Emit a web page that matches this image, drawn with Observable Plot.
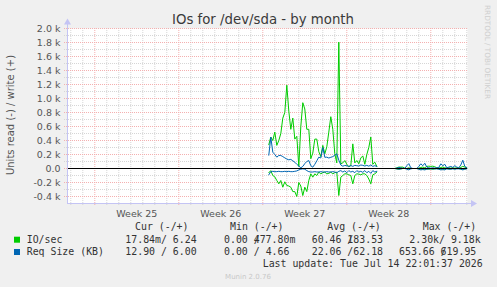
<!DOCTYPE html>
<html><head><meta charset="utf-8">
<script src="https://cdn.jsdelivr.net/npm/d3@7"></script>
<script src="https://cdn.jsdelivr.net/npm/@observablehq/plot@0.6"></script>
<style>
html,body{margin:0;padding:0;background:#f0f0f0;}
#wrap{position:relative;width:497px;height:287px;overflow:hidden;background:#f0f0f0;}
#wrap svg{position:absolute;left:0;top:0;}
</style></head><body><div id="wrap"></div>
<script>
// ---------- data ----------
const title = "IOs for /dev/sda - by month";
const yLabel = "Units read (-) / write (+)";
const sideLabel = "RRDTOOL / TOBI OETIKER";
const footer = "Munin 2.0.76";
const lastUpdate = "Last update: Tue Jul 14 22:01:37 2026";

const weekLabels = ["Week 25", "Week 26", "Week 27", "Week 28"];
const weekStarts = ["2026-06-14", "2026-06-21", "2026-06-28", "2026-07-05", "2026-07-12"];
const yMajorTicks = [-400, -200, 0, 200, 400, 600, 800, 1000, 1200, 1400, 1600, 1800, 2000];
const yMinorTicks = [-300, -100, 100, 300, 500, 700, 900, 1100, 1300, 1500, 1700, 1900];

const stepHours = 4;
const denseStart = "2026-06-28T12:00:00Z";
const sparseStart = "2026-07-08T20:00:00Z";

const ioWriteDense = [340,450,400,520,330,400,500,720,800,1190,820,560,720,420,460,30,600,940,850,560,560,140,220,420,420,240,170,330,210,310,520,740,560,210,80,1805,67,80,114,60,25,40,352,80,114,67,150,180,60,200,300,450,60,90,30];
const ioReadDense = [-60,-30,-100,-120,-171,-219,-171,-267,-190,-243,-250,-267,-330,-330,-400,-200,-250,-386,-267,-330,-171,-76,-124,-76,-100,-52,-76,-60,-52,-76,-70,-52,-76,-60,-52,-386,-124,-100,-76,-76,-90,-100,-219,-100,-76,-80,-90,-76,-76,-100,-150,-219,-90,-76,-52];
const reqWriteDense = [190,448,233,200,162,186,186,170,152,135,124,130,110,90,60,35,10,30,70,100,114,40,19,60,110,162,150,300,160,162,150,160,170,190,210,120,50,33,43,40,30,43,30,45,40,35,50,45,35,45,33,50,30,40,30];
const reqReadDense = [-90,-45,-40,-45,-45,-40,-45,-45,-40,-45,-40,-45,-45,-40,-35,-20,-10,-5,-10,-30,-45,-50,-50,-45,-50,-50,-45,-50,-50,-45,-50,-50,-45,-50,-60,-40,-30,-50,-35,-60,-30,-50,-40,-60,-30,-50,-40,-55,-30,-60,-40,-70,-30,-50,-40];

const ioWriteSparse = [0,0,10,20,20,20,5,0,10,0,0,0,0,5,15,20,10,30,33,30,33,25,10,5,15,20,10,5,10,5,10,5,10,5,15,30,20,10];
const ioReadSparse = [0,0,-5,-10,-5,0,0,0,-5,0,0,0,0,-5,-10,-5,-10,-5,-10,-5,-10,-5,0,-5,-10,-5,-10,0,-5,-5,0,-5,0,0,-5,-10,-5,0];
const reqWriteSparse = [0,0,5,15,10,5,0,40,70,10,0,0,0,30,67,40,75,20,10,5,10,5,10,15,67,40,60,10,20,30,15,40,20,10,50,119,30,10];
const reqReadSparse = [0,0,-5,-10,-5,0,0,-10,-20,-5,0,0,0,-10,-20,-15,-20,-10,-5,-5,-5,-5,-5,-10,-20,-15,-20,-5,-10,-10,-5,-10,-5,-5,-10,-20,-10,-5];

const legendHeaders = ["Cur (-/+)", "Min (-/+)", "Avg (-/+)", "Max (-/+)"];
const legendNames = ["IO/sec", "Req Size (KB)"];
const legendColors = ["#00cc00", "#0066b3"];
// [read part, write part, slash overlaps the next character?]
const legendValues = [
  [["17.84m", " 6.24", false], ["0.00 ", "477.80m", true], ["60.46 ", "183.53", true], ["2.30k", " 9.18k", false]],
  [["12.90 ", " 6.00", false], ["0.00 ", " 4.66", false], ["22.06 ", "62.18", false], ["653.66 ", "619.95", true]]
];

// ---------- build ----------
const domainStart = new Date("2026-06-11T17:24:00Z");
const domainEnd = new Date("2026-07-15T01:24:00Z");
const sundays = weekStarts.map(d => new Date(d + "T00:00:00Z"));
const days = d3.utcDay.range(d3.utcDay.ceil(domainStart), domainEnd);
const minorDays = days.filter(d => d.getUTCDay() !== 0);
const weekMids = sundays.slice(0, 4).map(d => d3.utcHour.offset(d, 84));
const weekLabelByTime = new Map(weekMids.map((d, i) => [+d, weekLabels[i]]));

function series(startIso, values, key) {
  const t0 = new Date(startIso);
  return values.map((v, i) => ({t: d3.utcHour.offset(t0, i * stepHours), v, key}));
}
const ioRows = [
  ...series(denseStart, ioWriteDense, "w1"), ...series(denseStart, ioReadDense, "r1"),
  ...series(sparseStart, ioWriteSparse, "w2"), ...series(sparseStart, ioReadSparse, "r2")
];
const reqRows = [
  ...series(denseStart, reqWriteDense, "w1"), ...series(denseStart, reqReadDense, "r1"),
  ...series(sparseStart, reqWriteSparse, "w2"), ...series(sparseStart, reqReadSparse, "r2")
];

const axisColor = "#c4c4f4";
const minorColor = "#d6d6d6";
const majorColor = "#f4b0b0";
const yTop = 2000, yBottom = -500;
const arrowTopY = 2086;
const arrowRightX = d3.utcHour.offset(domainEnd, 11);

const chart = Plot.plot({
  width: 497, height: 287,
  marginLeft: 67, marginRight: 30, marginTop: 28, marginBottom: 84,
  x: {type: "utc", domain: [domainStart, domainEnd]},
  y: {domain: [yBottom, yTop]},
  style: {background: "transparent", fontFamily: "DejaVu Sans, sans-serif", fontSize: "9.5px", color: "#555", overflow: "visible"},
  marks: [
    Plot.frame({fill: "white", stroke: null}),
    Plot.ruleY(yMinorTicks, {stroke: minorColor, strokeDasharray: "1,1", insetLeft: -3}),
    Plot.ruleX(minorDays, {stroke: minorColor, strokeDasharray: "1,1", insetBottom: -3}),
    Plot.ruleY(yMajorTicks, {stroke: majorColor, strokeDasharray: "1,1", insetLeft: -3}),
    Plot.ruleX(sundays, {stroke: majorColor, strokeDasharray: "1,1", insetBottom: -3}),
    Plot.line(ioRows, {x: "t", y: "v", z: "key", stroke: "#00cc00", strokeWidth: 1}),
    Plot.line(reqRows, {x: "t", y: "v", z: "key", stroke: "#0066b3", strokeWidth: 1}),
    Plot.ruleY([0], {stroke: "#000", strokeWidth: 1}),
    Plot.ruleX([domainStart], {y1: yBottom, y2: arrowTopY, stroke: axisColor}),
    Plot.ruleY([yBottom], {x1: domainStart, x2: arrowRightX, stroke: axisColor}),
    Plot.dot([{x: domainStart, y: arrowTopY}], {x: "x", y: "y", symbol: "triangle", r: 2.6, fill: axisColor, stroke: null}),
    Plot.dot([{x: arrowRightX, y: yBottom}], {x: "x", y: "y", symbol: "triangle", r: 2.6, rotate: 90, fill: axisColor, stroke: null}),
    Plot.axisY(yMajorTicks, {tickFormat: d => d === 0 ? "0.0" : (d / 1000).toFixed(1) + " k", tickSize: 0, tickPadding: 7, label: null, fill: "#555"}),
    Plot.axisX(weekMids, {tickFormat: d => weekLabelByTime.get(+d), tickSize: 0, tickPadding: 6.5, label: null, fill: "#555"})
  ]
});
const wrap = document.getElementById("wrap");
wrap.appendChild(chart);

// ---------- texts (title, labels, legend) ----------
const ov = d3.select(wrap).append("svg").attr("width", 497).attr("height", 287)
  .style("font-family", "DejaVu Sans, sans-serif");
ov.append("text").attr("x", 263).attr("y", 24).attr("text-anchor", "middle")
  .attr("font-size", 13.3).attr("fill", "#3a3a3a").text(title);
ov.append("text").attr("transform", "translate(14,115) rotate(-90)").attr("text-anchor", "middle")
  .attr("font-size", 10).attr("fill", "#555").text(yLabel);
ov.append("text").attr("transform", "translate(484.6,5) rotate(90)").attr("text-anchor", "start")
  .attr("font-size", 7.3).attr("fill", "#cfcfcf").text(sideLabel);
ov.append("text").attr("x", 248).attr("y", 278.5).attr("text-anchor", "middle")
  .attr("font-size", 7).attr("fill", "#c8c8c8").text(footer);

const mono = ov.append("g").style("font-family", "DejaVu Sans Mono, monospace")
  .attr("font-size", 9.9).attr("fill", "#333").style("white-space", "pre");
const cw = 9.9 * 0.602;
const headerX = [135, 230, 327.3, 422.7];
legendHeaders.forEach((h, i) => mono.append("text").attr("x", headerX[i]).attr("y", 230.3).text(h));
const rowY = [243, 255.3];
const valueX = [[125.3, 224, 311.7, 409.3], [125.3, 224, 311.7, 399]];
legendNames.forEach((n, r) => {
  ov.append("rect").attr("x", 14).attr("y", rowY[r] - 6.3).attr("width", 6).attr("height", 6).attr("fill", legendColors[r]);
  mono.append("text").attr("x", 26.7).attr("y", rowY[r]).text(n);
  legendValues[r].forEach(([rd, wr, overlap], c) => {
    const t = mono.append("text").attr("x", valueX[r][c]).attr("y", rowY[r]);
    t.append("tspan").text(rd);
    t.append("tspan").text("/");
    t.append("tspan").attr("dx", overlap ? -cw : 0).text(wr);
  });
});
mono.append("text").attr("x", 482.7).attr("y", 267).attr("text-anchor", "end").text(lastUpdate);
</script></body></html>
